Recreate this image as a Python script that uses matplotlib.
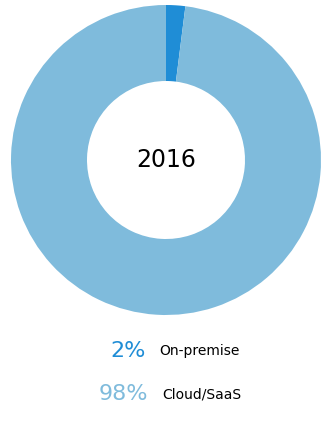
import matplotlib
matplotlib.use('Agg')
import matplotlib.pyplot as plt

labels = ['On-premise', 'Cloud/SaaS']
values = [2, 98]
colors = ['#1f8dd6', '#7fbbdc']
year = '2016'

W, H = 328, 424
fig = plt.figure(figsize=(W / 100, H / 100), dpi=100)

# donut: center (166,160) px, outer radius 155, inner 79
ax = fig.add_axes([11 / W, (H - 315) / H, 310 / W, 310 / H])
ax.pie(values, colors=colors, startangle=90, counterclock=False,
       radius=1.0, wedgeprops=dict(width=1 - 79 / 155, linewidth=0))
ax.set_xlim(-1, 1)
ax.set_ylim(-1, 1)
ax.set_aspect('equal')
ax.axis('off')
ax.text(0, 0, year, ha='center', va='center', fontsize=17, color='black')

# legend rows
rows_y = [351, 394]
pct_x = [146, 148]
lab_x = [159, 162]
for i in range(len(values)):
    y = 1 - rows_y[i] / H
    fig.text(pct_x[i] / W, y, f'{values[i]}%', ha='right', va='center',
             fontsize=16, color=colors[i])
    fig.text(lab_x[i] / W, y, labels[i], ha='left', va='center',
             fontsize=10, color='black')

fig.savefig('out.png', dpi=100)
